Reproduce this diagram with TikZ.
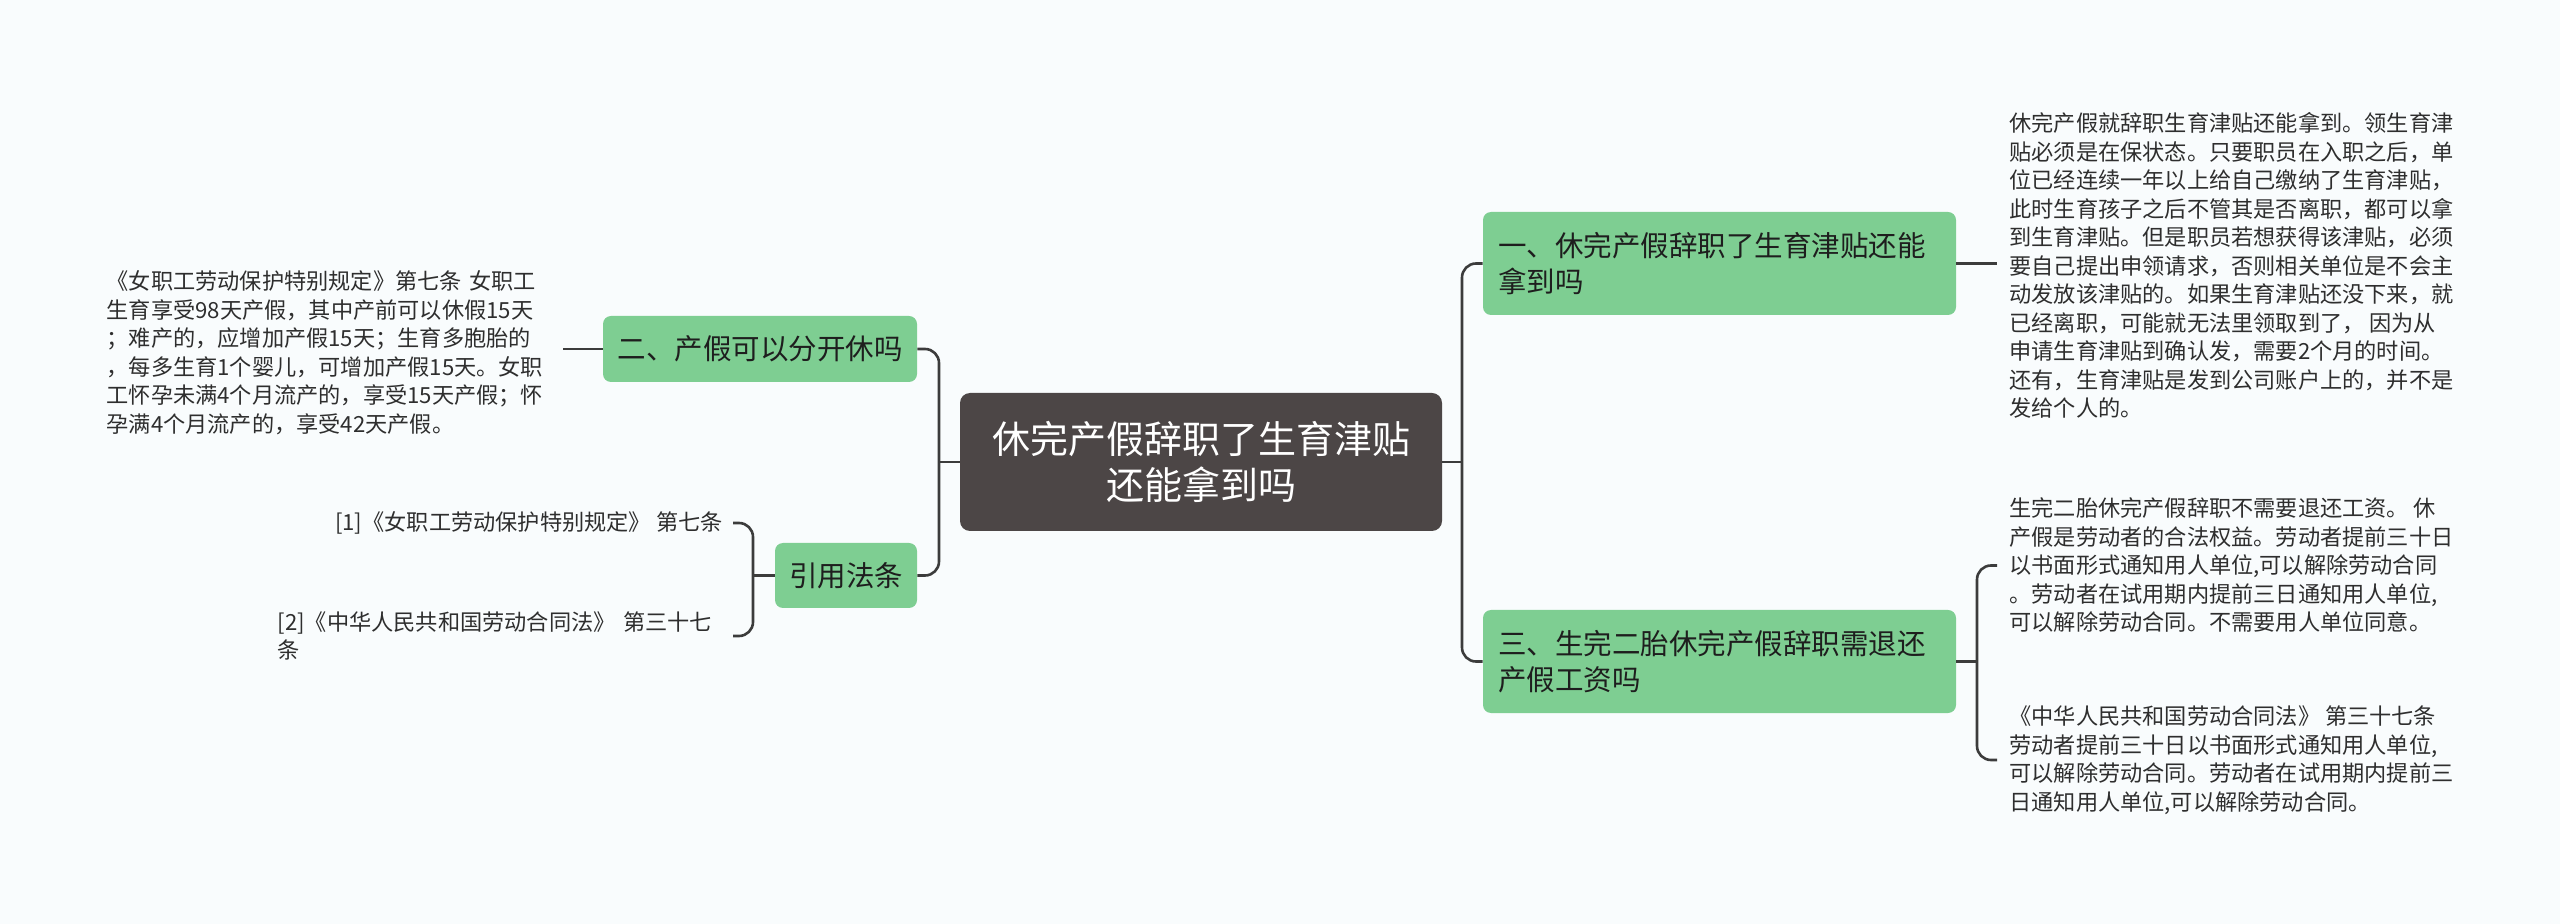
\documentclass[tikz,border=0pt]{standalone}
\usepackage{fontspec}
\setmainfont{Noto Sans CJK SC}
\definecolor{bgc}{HTML}{F9FCFD}
\definecolor{greenc}{HTML}{7ECE92}
\definecolor{darkc}{HTML}{4C4646}
\definecolor{linec}{HTML}{3C3C3C}
\definecolor{txtc}{HTML}{1E1E1E}
\definecolor{dtxt}{HTML}{2E2E2E}
\begin{document}
\begin{tikzpicture}[x=0.5pt,y=-0.5pt,
  conn/.style={draw=linec, line width=1.3pt, rounded corners=7pt},
  topic/.style={fill=greenc, rounded corners=4pt, text=txtc, font=\fontsize{14.25pt}{18pt}\selectfont, inner sep=0pt},
  centre/.style={fill=darkc, rounded corners=5pt, text=white, font=\fontsize{19pt}{23pt}\selectfont, align=center, inner sep=0pt},
  detail/.style={text=dtxt, font=\fontsize{11.1pt}{14.25pt}\selectfont, align=left, inner ysep=0pt},
]
\fill[bgc] (0,0) rectangle (2560,924);
\useasboundingbox (0,0) rectangle (2560,924);

\node[centre, minimum width=241pt, minimum height=69pt] (ctr) at (1201,462) {休完产假辞职了生育津贴\\还能拿到吗};

\node[topic, minimum width=236.5pt, minimum height=51.5pt, text width=221.5pt, align=left] (n1) at (1719.5,263.5) {一、休完产假辞职了生育津贴还能\\拿到吗};
\node[topic, minimum width=236.5pt, minimum height=51.5pt, text width=221.5pt, align=left] (n3) at (1719.5,661.5) {三、生完二胎休完产假辞职需退还\\产假工资吗};
\node[topic, minimum width=157pt, minimum height=33pt, align=center] (n2) at (760,349) {二、产假可以分开休吗};
\node[topic, minimum width=71pt, minimum height=32.5pt, align=center] (n4) at (846,575.5) {引用法条};

\node[detail, anchor=west, inner xsep=6pt] (d1) at (1997,265.5) {休完产假就辞职生育津贴还能拿到。领生育津\\贴必须是在保状态。只要职员在入职之后，单\\位已经连续一年以上给自己缴纳了生育津贴，\\此时生育孩子之后不管其是否离职，都可以拿\\到生育津贴。但是职员若想获得该津贴，必须\\要自己提出申领请求，否则相关单位是不会主\\动发放该津贴的。如果生育津贴还没下来，就\\已经离职，可能就无法里领取到了， 因为从\\申请生育津贴到确认发，需要2个月的时间。\\还有，生育津贴是发到公司账户上的，并不是\\发给个人的。};
\node[detail, anchor=west, inner xsep=6pt] (d2) at (1997,565.5) {生完二胎休完产假辞职不需要退还工资。 休\\产假是劳动者的合法权益。劳动者提前三十日\\以书面形式通知用人单位,可以解除劳动合同\\。劳动者在试用期内提前三日通知用人单位,\\可以解除劳动合同。不需要用人单位同意。};
\node[detail, anchor=west, inner xsep=6pt] (d3) at (1997,760) {《中华人民共和国劳动合同法》 第三十七条\\劳动者提前三十日以书面形式通知用人单位,\\可以解除劳动合同。劳动者在试用期内提前三\\日通知用人单位,可以解除劳动合同。};

\node[detail, anchor=east, inner xsep=0pt, text width=228pt] (dL) at (563,353) {《女职工劳动保护特别规定》第七条 女职工\\生育享受98天产假，其中产前可以休假15天\\；难产的，应增加产假15天；生育多胞胎的\\，每多生育1个婴儿，可增加产假15天。女职\\工怀孕未满4个月流产的，享受15天产假；怀\\孕满4个月流产的，享受42天产假。};

\node[detail, anchor=east, inner xsep=5pt] (r1) at (733,523) {[1]《女职工劳动保护特别规定》 第七条};
\node[detail, anchor=east, inner xsep=0pt, text width=227.5pt] (r2) at (733,636) {[2]《中华人民共和国劳动合同法》 第三十七\\条};

\coordinate (bL) at (939,462);
\coordinate (bR) at (1462,462);
\coordinate (bR3) at (1977,661.5);
\coordinate (bRef) at (753,575.5);

\draw[conn] (ctr.west) -- (bL);
\draw[conn] (n2.east) -- (n2.east -| bL) -- (n4.east -| bL) -- (n4.east);
\draw[conn] (ctr.east) -- (bR);
\draw[conn] (n1.west) -- (n1.west -| bR) -- (n3.west -| bR) -- (n3.west);
\draw[conn] (n1.east) -- (n1.east -| d1.west);
\draw[conn] (n3.east) -- (bR3);
\draw[conn] (d2.west) -- (d2.west -| bR3) -- (d3.west -| bR3) -- (d3.west);
\draw[conn] (n2.west) -- (n2.west -| dL.east);
\draw[conn] (n4.west) -- (n4.west -| bRef);
\draw[conn] (r1.east) -- (r1.east -| bRef) -- (r2.east -| bRef) -- (r2.east);
\end{tikzpicture}
\end{document}
